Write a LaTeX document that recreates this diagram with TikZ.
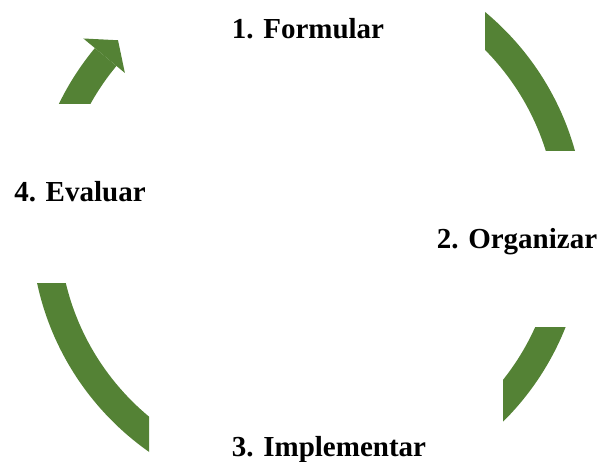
\documentclass[tikz,border=0pt]{standalone}
\usepackage{fontspec}
\setmainfont{Liberation Serif}
\definecolor{cyclegreen}{RGB}{84,130,53}

\begin{document}
\begin{tikzpicture}[x=1pt,y=1pt,
  stage/.style={font=\fontsize{29}{31}\selectfont\bfseries,inner sep=0pt,anchor=base},
  band/.style={fill=cyclegreen,even odd rule}]
\useasboundingbox (0,0) rectangle (602,461);
\coordinate (c) at (308,236);

\node[stage] (formular) at (308,422) {1. Formular};
\node[stage] (organizar) at (517,212) {2. Organizar};
\node[stage] (implementar) at (329,5) {3. Implementar};
\node[stage] (evaluar) at (80,259) {4. Evaluar};

\begin{scope}
\clip (485,310) rectangle (602,461);
\fill[band] (c) circle (277pt) (c) circle (249pt);
\end{scope}
\begin{scope}
\clip (503,0) rectangle (602,134);
\fill[band] (c) circle (277pt) (c) circle (249pt);
\end{scope}
\begin{scope}
\clip (0,0) rectangle (149,178);
\fill[band] (c) circle (277pt) (c) circle (249pt);
\end{scope}
\begin{scope}
\clip (0,357) rectangle (602,461);
\fill[band] ([shift={(c)}]180:277pt) arc[start angle=180,end angle=140.3,radius=277pt]
  -- ([shift={(c)}]140.3:249pt) arc[start angle=140.3,end angle=180,radius=249pt] -- cycle;
\end{scope}
\fill[band] ([shift={(c)}]140.3:292pt) -- ([shift={(c)}]135.8:265pt)
  -- ([shift={(c)}]140.3:238pt) -- cycle;
\end{tikzpicture}
\end{document}
